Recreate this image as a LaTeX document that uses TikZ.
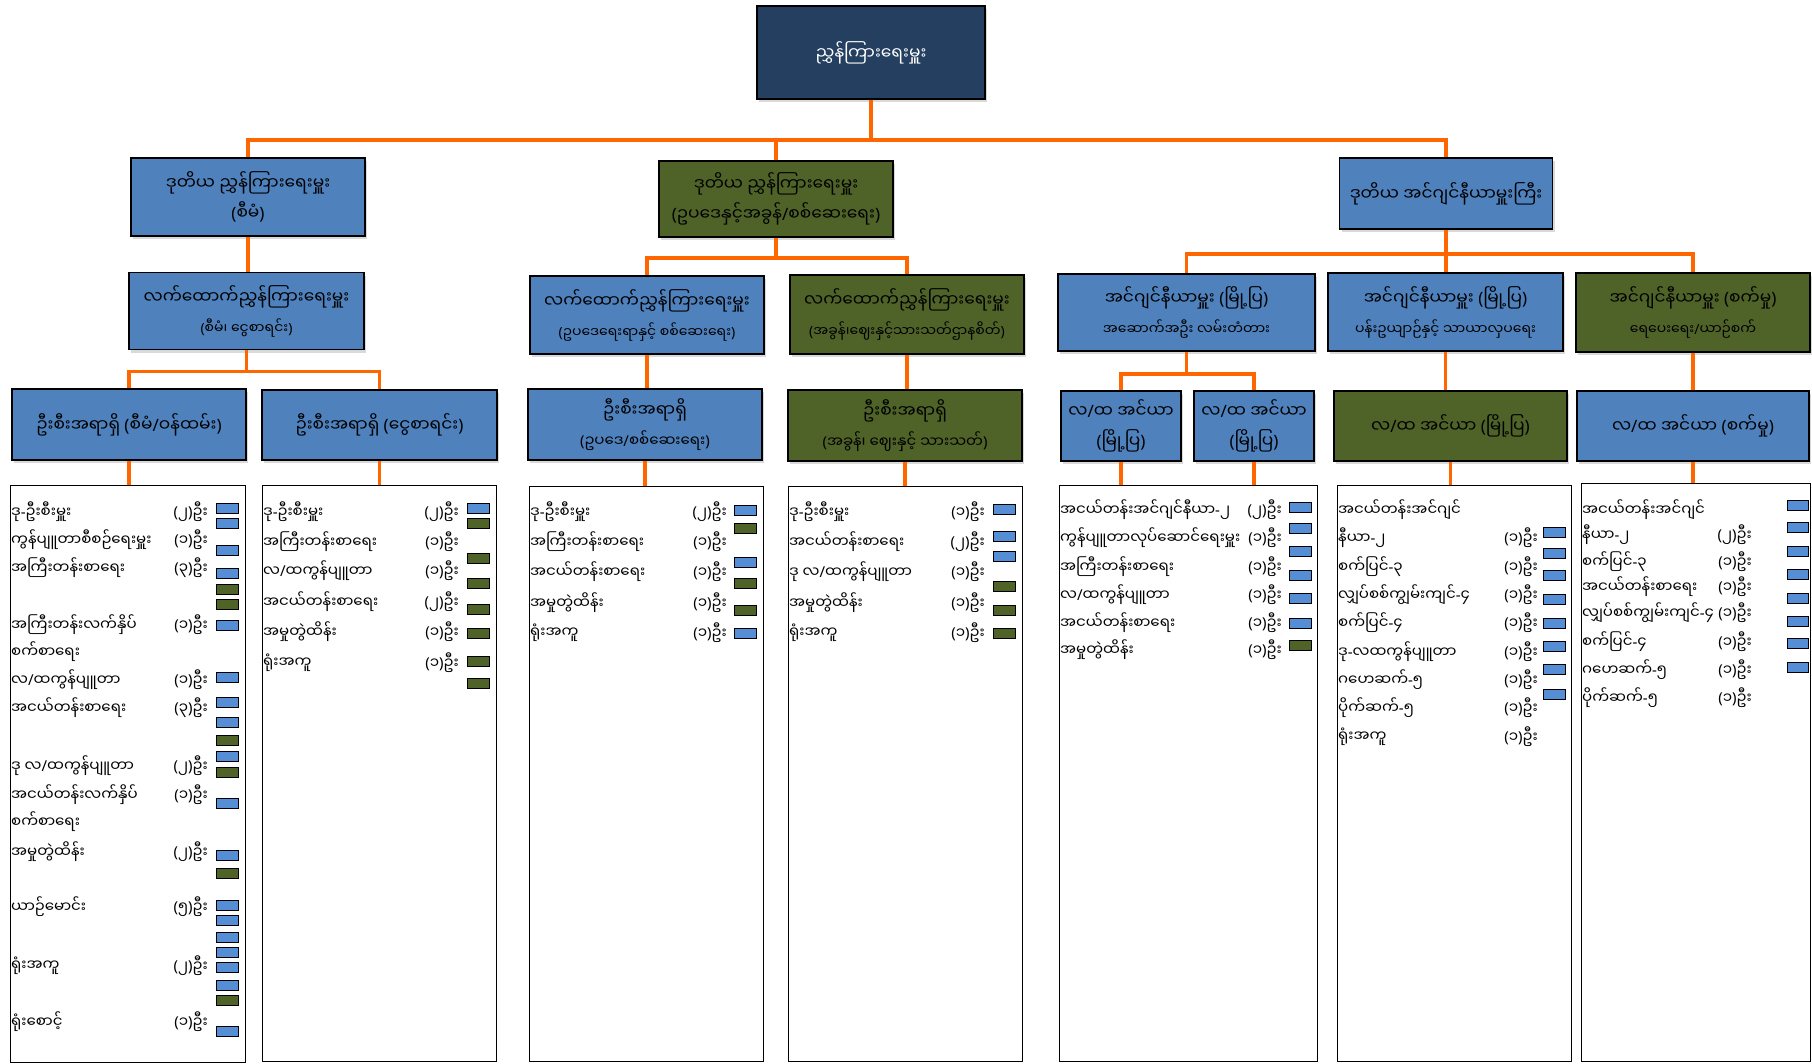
\documentclass[tikz,border=0pt]{standalone}
\usepackage{fontspec}
\newfontfamily\mmfont[Script=Myanmar]{Noto Sans Myanmar UI}
\newfontfamily\latinfont{Noto Sans}
\usepackage{xcolor}
\usepackage{tikz}
\usetikzlibrary{calc,shadows}

% brackets, slash and hyphen are missing in the Myanmar font
\XeTeXinterchartokenstate=1
\newXeTeXintercharclass\puncclass
\XeTeXcharclass`\(=\puncclass
\XeTeXcharclass`\)=\puncclass
\XeTeXcharclass`\-=\puncclass
\XeTeXcharclass`\/=\puncclass
\XeTeXinterchartoks 0 \puncclass = {\latinfont}
\XeTeXinterchartoks 4095 \puncclass = {\latinfont}
\XeTeXinterchartoks \puncclass 0 = {\mmfont}
\XeTeXinterchartoks 4095 0 = {\mmfont}

\definecolor{cnavy}{HTML}{243F60}
\definecolor{cblue}{HTML}{4F81BD}
\definecolor{cgreen}{HTML}{4F6228}
\definecolor{ctag}{HTML}{558ED5}
\definecolor{corange}{HTML}{FF6600}
\newcommand{\subfont}{\fontsize{14}{30}\selectfont}

\begin{document}
\begin{tikzpicture}[x=1pt,y=1pt,
    every node/.style={inner sep=0pt},
    box/.style={draw=black,line width=1.5pt,align=center,
        font=\mmfont\fontsize{17}{30}\selectfont,
        drop shadow={shadow xshift=2pt,shadow yshift=-3pt,opacity=0.3}},
    bbox/.style={box,fill=cblue},
    gbox/.style={box,fill=cgreen},
    listbox/.style={draw=black,line width=1.2pt,fill=white,anchor=north west},
    conn/.style={draw=corange,line width=3.5pt},
    item/.style={anchor=west,font=\mmfont\fontsize{15}{18}\selectfont},
    cnt/.style={anchor=east,font=\mmfont\fontsize{15}{18}\selectfont},
    tagb/.style={draw=black,line width=0.8pt,fill=ctag},
    tagg/.style={draw=black,line width=0.8pt,fill=cgreen}]
\useasboundingbox (0,0) rectangle (1812,-1063);
% top
\node[box,fill=cnavy,text=white,minimum width=228,minimum height=93] (root) at (871,-52.5) {ညွှန်ကြားရေးမှူး};
% second row
\node[bbox,minimum width=234,minimum height=78] (l2a) at (248,-197) {ဒုတိယ ညွှန်ကြားရေးမှူး\\(စီမံ)};
\node[gbox,minimum width=234,minimum height=76] (l2b) at (776,-199) {ဒုတိယ ညွှန်ကြားရေးမှူး\\(ဥပဒေနှင့်အခွန်/စစ်ဆေးရေး)};
\node[bbox,minimum width=213,minimum height=71] (l2c) at (1446,-193.5) {ဒုတိယ အင်ဂျင်နီယာမှူးကြီး};
% third row
\node[bbox,minimum width=235,minimum height=77] (l3a) at (246.5,-311) {လက်ထောက်ညွှန်ကြားရေးမှူး\\{\subfont(စီမံ၊ ငွေစာရင်း)}};
\node[bbox,minimum width=234,minimum height=78] (l3b) at (647,-315) {လက်ထောက်ညွှန်ကြားရေးမှူး\\{\subfont(ဥပဒေရေးရာနှင့် စစ်ဆေးရေး)}};
\node[gbox,minimum width=234,minimum height=79] (l3c) at (907,-314.5) {လက်ထောက်ညွှန်ကြားရေးမှူး\\{\subfont(အခွန်၊ဈေးနှင့်သားသတ်ဌာနစိတ်)}};
\node[bbox,minimum width=257,minimum height=77] (l3d) at (1186.5,-312.5) {အင်ဂျင်နီယာမှူး (မြို့ပြ)\\{\subfont အဆောက်အဦး လမ်းတံတား}};
\node[bbox,minimum width=235,minimum height=78] (l3e) at (1445.5,-312) {အင်ဂျင်နီယာမှူး (မြို့ပြ)\\{\subfont ပန်းဥယျာဉ်နှင့် သာယာလှပရေး}};
\node[gbox,minimum width=234,minimum height=79] (l3f) at (1693,-312.5) {အင်ဂျင်နီယာမှူး (စက်မှု)\\{\subfont ရေပေးရေး/ယာဉ်စက်}};
% fourth row
\node[bbox,minimum width=234,minimum height=71] (l4a) at (129,-424.5) {ဦးစီးအရာရှိ (စီမံ/ဝန်ထမ်း)};
\node[bbox,minimum width=235,minimum height=70] (l4b) at (379.5,-425) {ဦးစီးအရာရှိ (ငွေစာရင်း)};
\node[bbox,minimum width=234,minimum height=71] (l4c) at (645,-424.5) {ဦးစီးအရာရှိ\\{\fontsize{15}{29}\selectfont(ဥပဒေ/စစ်ဆေးရေး)}};
\node[gbox,minimum width=234,minimum height=71] (l4d) at (905,-425.5) {ဦးစီးအရာရှိ\\{\fontsize{15}{29}\selectfont(အခွန်၊ ဈေးနှင့် သားသတ်)}};
\node[bbox,minimum width=120,minimum height=70] (l4e) at (1121,-426) {လ/ထ အင်ယာ\\(မြို့ပြ)};
\node[bbox,minimum width=120,minimum height=70] (l4f) at (1254,-426) {လ/ထ အင်ယာ\\(မြို့ပြ)};
\node[gbox,minimum width=233,minimum height=70] (l4g) at (1450.5,-426) {လ/ထ အင်ယာ (မြို့ပြ)};
\node[bbox,minimum width=232,minimum height=70] (l4h) at (1693,-426) {လ/ထ အင်ယာ (စက်မှု)};
% staff lists
\node[listbox,minimum width=235,minimum height=577] (la) at (10,-485) {};
\node[listbox,minimum width=234,minimum height=576] (lb) at (262,-485) {};
\node[listbox,minimum width=234,minimum height=575] (lc) at (529,-486) {};
\node[listbox,minimum width=234,minimum height=575] (ld) at (788,-486) {};
\node[listbox,minimum width=258,minimum height=576] (le) at (1059,-485) {};
\node[listbox,minimum width=234,minimum height=576] (lf) at (1337,-485) {};
\node[listbox,minimum width=229,minimum height=578] (lg) at (1581,-483) {};
% connectors
\draw[conn] (root.south) -- ++(0,-40) -| (l2a.north);
\draw[conn] (root.south) -- ++(0,-40) -| (l2b.north);
\draw[conn] (root.south) -- ++(0,-40) -| (l2c.north);
\draw[conn] (l2a.south) -- (l2a.south |- l3a.north);
\draw[conn] (l2b.south) -- ++(0,-20) -| (l3b.north);
\draw[conn] (l2b.south) -- ++(0,-20) -| (l3c.north);
\draw[conn] (l2c.south) -- ++(0,-24) -| (l3d.north);
\draw[conn] (l2c.south) -- (l2c.south |- l3e.north);
\draw[conn] (l2c.south) -- ++(0,-24) -| (l3f.north);
\draw[conn] (l3a.south) -- ++(0,-21) -| (l4a.north);
\draw[conn] (l3a.south) -- ++(0,-21) -| (l4b.north);
\draw[conn] (l3b.south) -- (l3b.south |- l4c.north);
\draw[conn] (l3c.south) -- (l3c.south |- l4d.north);
\draw[conn] (l3d.south) -- ++(0,-22) -| (l4e.north);
\draw[conn] (l3d.south) -- ++(0,-22) -| (l4f.north);
\draw[conn] (l3e.south) -- (l3e.south |- l4g.north);
\draw[conn] (l3f.south) -- (l3f.south |- l4h.north);
\foreach \n/\m in {l4a/la,l4b/lb,l4c/lc,l4d/ld,l4e/le,l4f/le,l4g/lf,l4h/lg}
    \draw[conn] (\n.south) -- (\n.south |- \m.north);
% list rows
\foreach \y/\t/\c in {512/{ဒု-ဦးစီးမှူး}/{(၂)ဦး}, 540/{ကွန်ပျူတာစီစဉ်ရေးမှူး}/{(၁)ဦး},
    568/{အကြီးတန်းစာရေး}/{(၃)ဦး}, 625/{အကြီးတန်းလက်နှိပ်}/{(၁)ဦး},
    680/{လ/ထကွန်ပျူတာ}/{(၁)ဦး}, 708/{အငယ်တန်းစာရေး}/{(၃)ဦး}, 766/{ဒု လ/ထကွန်ပျူတာ}/{(၂)ဦး},
    795/{အငယ်တန်းလက်နှိပ်}/{(၁)ဦး}, 852/{အမှုတွဲထိန်း}/{(၂)ဦး},
    907/{ယာဉ်မောင်း}/{(၅)ဦး}, 966/{ရုံးအကူ}/{(၂)ဦး}, 1022/{ရုံးစောင့်}/{(၁)ဦး}}
    {\node[item] (a\y) at (11,-\y) {\t}; \node[cnt] (ac\y) at (208,-\y) {\c};}
\node[item] (a652) at (11,-652) {စက်စာရေး};
\node[item] (a822) at (11,-822) {စက်စာရေး};
\foreach \y/\t/\c in {512/{ဒု-ဦးစီးမှူး}/{(၂)ဦး}, 542/{အကြီးတန်းစာရေး}/{(၁)ဦး},
    571/{လ/ထကွန်ပျူတာ}/{(၁)ဦး}, 602/{အငယ်တန်းစာရေး}/{(၂)ဦး},
    632/{အမှုတွဲထိန်း}/{(၁)ဦး}, 663/{ရုံးအကူ}/{(၁)ဦး}}
    {\node[item] (b\y) at (263,-\y) {\t}; \node[cnt] (bc\y) at (459,-\y) {\c};}
\foreach \y/\t/\c in {512/{ဒု-ဦးစီးမှူး}/{(၂)ဦး}, 542/{အကြီးတန်းစာရေး}/{(၁)ဦး},
    572/{အငယ်တန်းစာရေး}/{(၁)ဦး}, 603/{အမှုတွဲထိန်း}/{(၁)ဦး}, 633/{ရုံးအကူ}/{(၁)ဦး}}
    {\node[item] (c\y) at (530,-\y) {\t}; \node[cnt] (cc\y) at (727,-\y) {\c};}
\foreach \y/\t/\c in {512/{ဒု-ဦးစီးမှူး}/{(၁)ဦး}, 542/{အငယ်တန်းစာရေး}/{(၂)ဦး},
    572/{ဒု လ/ထကွန်ပျူတာ}/{(၁)ဦး}, 603/{အမှုတွဲထိန်း}/{(၁)ဦး}, 633/{ရုံးအကူ}/{(၁)ဦး}}
    {\node[item] (d\y) at (789,-\y) {\t}; \node[cnt] (dc\y) at (985,-\y) {\c};}
\foreach \y/\t/\c in {510/{အငယ်တန်းအင်ဂျင်နီယာ-၂}/{(၂)ဦး}, 538/{ကွန်ပျူတာလုပ်ဆောင်ရေးမှူး}/{(၁)ဦး},
    567/{အကြီးတန်းစာရေး}/{(၁)ဦး}, 595/{လ/ထကွန်ပျူတာ}/{(၁)ဦး},
    623/{အငယ်တန်းစာရေး}/{(၁)ဦး}, 650/{အမှုတွဲထိန်း}/{(၁)ဦး}}
    {\node[item] (e\y) at (1060,-\y) {\t}; \node[cnt] (ec\y) at (1282,-\y) {\c};}
\node[item] (f510) at (1338,-510) {အငယ်တန်းအင်ဂျင်};
\foreach \y/\t/\c in {538/{နီယာ-၂}/{(၁)ဦး}, 567/{စက်ပြင်-၃}/{(၁)ဦး},
    595/{လျှပ်စစ်ကျွမ်းကျင်-၄}/{(၁)ဦး}, 623/{စက်ပြင်-၄}/{(၁)ဦး}, 652/{ဒု-လထကွန်ပျူတာ}/{(၁)ဦး},
    680/{ဂဟေဆက်-၅}/{(၁)ဦး}, 708/{ပိုက်ဆက်-၅}/{(၁)ဦး}, 737/{ရုံးအကူ}/{(၁)ဦး}}
    {\node[item] (f\y) at (1338,-\y) {\t}; \node[cnt] (fc\y) at (1538,-\y) {\c};}
\node[item] (g510) at (1582,-510) {အငယ်တန်းအင်ဂျင်};
\foreach \y/\t/\c in {535/{နီယာ-၂}/{(၂)ဦး}, 562/{စက်ပြင်-၃}/{(၁)ဦး},
    587/{အငယ်တန်းစာရေး}/{(၁)ဦး}, 613/{လျှပ်စစ်ကျွမ်းကျင်-၄}/{(၁)ဦး}, 642/{စက်ပြင်-၄}/{(၁)ဦး},
    670/{ဂဟေဆက်-၅}/{(၁)ဦး}, 698/{ပိုက်ဆက်-၅}/{(၁)ဦး}}
    {\node[item] (g\y) at (1582,-\y) {\t}; \node[cnt] (gc\y) at (1752,-\y) {\c};}
% staff tags
\foreach \y/\s in {508/tagb,523/tagb,550/tagb,573/tagb,589/tagg,604/tagg,625/tagb,677/tagb,
    702/tagb,722/tagb,740/tagg,756/tagb,772/tagg,803/tagb,855/tagb,873/tagg,905/tagb,920/tagb,
    937/tagb,952/tagb,967/tagb,985/tagb,1000/tagg,1031/tagb}
    \draw[\s] (216,-\y-5) rectangle ++(22,10);
\foreach \y/\s in {508/tagb,523/tagg,558/tagg,583/tagg,609/tagg,633/tagg,661/tagg,683/tagg}
    \draw[\s] (467,-\y-5) rectangle ++(22,10);
\foreach \y/\s in {510/tagb,528/tagg,562/tagb,583/tagg,610/tagg,633/tagb}
    \draw[\s] (734,-\y-5) rectangle ++(22,10);
\foreach \y/\s in {509/tagb,536/tagb,556/tagb,586/tagg,610/tagg,633/tagg}
    \draw[\s] (993,-\y-5) rectangle ++(22,10);
\foreach \y/\s in {507/tagb,528/tagb,551/tagb,575/tagb,598/tagb,623/tagb,645/tagg}
    \draw[\s] (1289,-\y-5) rectangle ++(22,10);
\foreach \y in {532,553,575,599,623,646,669,694}
    \draw[tagb] (1543,-\y-5) rectangle ++(22,10);
\foreach \y in {505,527,551,574,598,621,643,667}
    \draw[tagb] (1787,-\y-5) rectangle ++(21,10);
\end{tikzpicture}
\end{document}
